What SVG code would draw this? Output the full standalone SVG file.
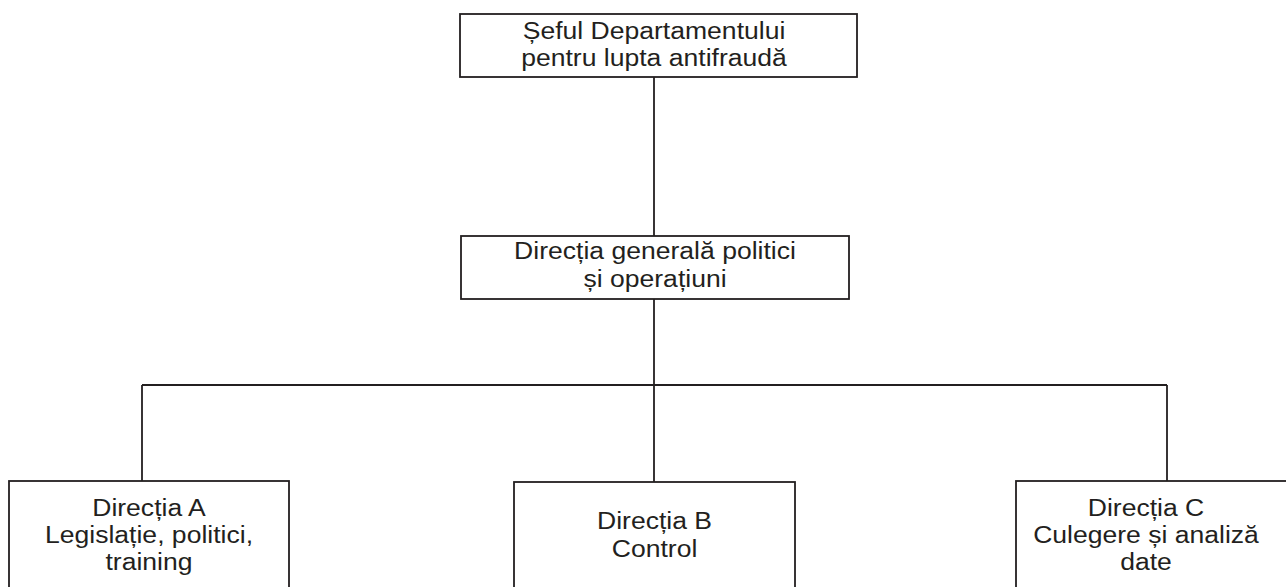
<svg xmlns="http://www.w3.org/2000/svg" width="1286" height="587" viewBox="0 0 1286 587">
<style>
.box{fill:#ffffff;stroke:#231f20;stroke-width:1.8}
.con{fill:none;stroke:#231f20;stroke-width:1.8}
.t{font-family:"Liberation Sans",Arial,sans-serif;font-size:23.5px;fill:#231f20;text-anchor:middle}
</style>
<rect width="1286" height="587" fill="#ffffff"/>
<g id="connectors">
<path class="con" d="M654,77 V236"/>
<path class="con" d="M654,299 V482"/>
<path class="con" d="M142,385 H1167"/>
<path class="con" d="M142,385 V481"/>
<path class="con" d="M1167,385 V481"/>
</g>
<g id="node-sef">
<rect class="box" x="460" y="14" width="397" height="63"/>
<g transform="translate(654,0) scale(1.13,1)">
<text class="t" x="0" y="39">Șeful Departamentului</text>
<text class="t" x="0" y="66">pentru lupta antifraudă</text>
</g>
</g>
<g id="node-dgpo">
<rect class="box" x="461" y="236" width="388" height="63"/>
<g transform="translate(655,0) scale(1.13,1)">
<text class="t" x="0" y="259">Direcția generală politici</text>
<text class="t" x="0" y="287">și operațiuni</text>
</g>
</g>
<g id="node-a">
<rect class="box" x="9" y="481" width="280" height="130"/>
<g transform="translate(149,0) scale(1.13,1)">
<text class="t" x="0" y="516">Direcția A</text>
<text class="t" x="0" y="543">Legislație, politici,</text>
<text class="t" x="0" y="570">training</text>
</g>
</g>
<g id="node-b">
<rect class="box" x="514" y="482" width="281" height="130"/>
<g transform="translate(654.5,0) scale(1.13,1)">
<text class="t" x="0" y="529">Direcția B</text>
<text class="t" x="0" y="557">Control</text>
</g>
</g>
<g id="node-c">
<rect class="box" x="1016" y="481" width="290" height="130"/>
<g transform="translate(1146,0) scale(1.13,1)">
<text class="t" x="0" y="516">Direcția C</text>
<text class="t" x="0" y="543">Culegere și analiză</text>
<text class="t" x="0" y="570">date</text>
</g>
</g>
</svg>
